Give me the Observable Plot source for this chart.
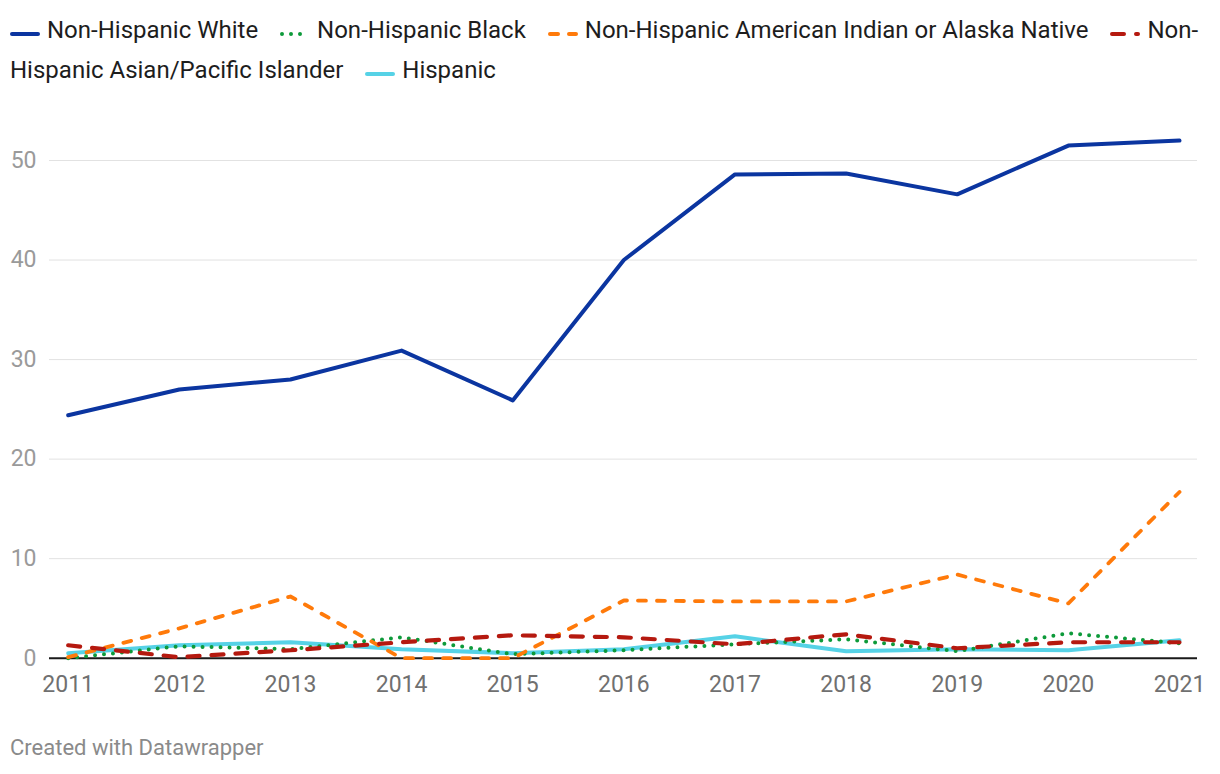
<!DOCTYPE html>
<html>
<head>
<meta charset="utf-8">
<script src="https://cdn.jsdelivr.net/npm/d3@7"></script>
<script src="https://cdn.jsdelivr.net/npm/@observablehq/plot@0.6"></script>
<style>
  html, body { margin: 0; padding: 0; background: #fff; }
  body { width: 1220px; height: 774px; overflow: hidden; position: relative; font-family: Roboto, "Noto Sans", sans-serif; }
  #legend { position: absolute; left: 10px; top: 10px; font-size: 24px; line-height: 40px; color: #1d1d1d; white-space: nowrap; }
  #legend .it { margin-right: 16px; }
  #legend svg { display: inline-block; vertical-align: -1px; margin-right: 7px; }
  #chart { position: absolute; left: 0; top: 90px; }
  #footer { position: absolute; left: 10px; top: 735px; font-size: 22px; color: #8a8a8a; }
</style>
</head>
<body>
<div id="legend"></div>
<div id="chart"></div>
<div id="footer">Created with Datawrapper</div>
<script>
// ---- data ----
const years = [2011, 2012, 2013, 2014, 2015, 2016, 2017, 2018, 2019, 2020, 2021];
const seriesNames = [
  "Non-Hispanic White",
  "Non-Hispanic Black",
  "Non-Hispanic American Indian or Alaska Native",
  "Non-Hispanic Asian/Pacific Islander",
  "Hispanic"
];
const white = [24.4, 27.0, 28.0, 30.9, 25.9, 40.0, 48.6, 48.7, 46.6, 51.5, 52.0];
const black = [0.0, 1.2, 0.9, 2.1, 0.4, 0.8, 1.4, 1.9, 0.7, 2.5, 1.5];
const aian = [0.1, 3.0, 6.2, 0.0, 0.0, 5.8, 5.7, 5.7, 8.4, 5.5, 16.7];
const asian = [1.3, 0.1, 0.8, 1.6, 2.3, 2.1, 1.4, 2.4, 1.0, 1.6, 1.6];
const hispanic = [0.5, 1.3, 1.6, 0.9, 0.5, 0.9, 2.2, 0.7, 0.9, 0.8, 1.8];
const yTicks = [0, 10, 20, 30, 40, 50];

// ---- styles (separate from data) ----
const styles = [
  {color: "#0b35a0", width: 4, dash: null},
  {color: "#0d9a3a", width: 4, dash: "0 9"},
  {color: "#ff7a0a", width: 3.8, dash: "8 11"},
  {color: "#b5190f", width: 4.2, dash: "12 12"},
  {color: "#56d2e6", width: 4, dash: null}
];
const valuesBySeries = [white, black, aian, asian, hispanic];
const drawOrder = [0, 4, 1, 2, 3];

// ---- legend ----
const legend = document.getElementById("legend");
function swatch(st) {
  const ns = "http://www.w3.org/2000/svg";
  const s = document.createElementNS(ns, "svg");
  s.setAttribute("width", 30); s.setAttribute("height", 10);
  const l = document.createElementNS(ns, "line");
  l.setAttribute("x1", 2); l.setAttribute("x2", 28);
  l.setAttribute("y1", 5); l.setAttribute("y2", 5);
  l.setAttribute("stroke", st.color);
  l.setAttribute("stroke-width", 4);
  l.setAttribute("stroke-linecap", "round");
  if (st.dash) l.setAttribute("stroke-dasharray", st.dash);
  s.appendChild(l);
  return s;
}
seriesNames.forEach((name, i) => {
  const span = document.createElement("span");
  span.className = "it";
  span.appendChild(swatch(styles[i]));
  if (name === "Non-Hispanic Asian/Pacific Islander") {
    span.appendChild(document.createTextNode("Non-"));
    span.appendChild(document.createElement("br"));
    span.appendChild(document.createTextNode("Hispanic Asian/Pacific Islander"));
  } else {
    span.appendChild(document.createTextNode(name));
  }
  legend.appendChild(span);
  legend.appendChild(document.createTextNode(" "));
});

// ---- chart ----
const lineMarks = drawOrder.map(i => {
  const st = styles[i];
  const data = years.map((y, k) => ({year: y, value: valuesBySeries[i][k]}));
  return Plot.line(data, {
    x: "year", y: "value",
    stroke: st.color, strokeWidth: st.width,
    strokeDasharray: st.dash || undefined,
    strokeLinecap: "round", strokeLinejoin: "round"
  });
});

const chart = Plot.plot({
  width: 1220,
  height: 618,
  marginLeft: 49,
  marginRight: 23,
  marginTop: 70,
  marginBottom: 50,
  style: {fontFamily: "Roboto, sans-serif", background: "transparent", overflow: "visible"},
  x: {domain: [2011, 2021], range: [67.7, 1179], label: null},
  y: {domain: [0, 50], range: [567.7, 70], label: null},
  marks: [
    Plot.ruleY(yTicks.filter(d => d > 0), {stroke: "#e2e2e2", strokeWidth: 1}),
    Plot.axisY({ticks: yTicks, tickSize: 0, tickPadding: 13, fontSize: 23, color: "#9a9a9a", label: null}),
    Plot.axisX({ticks: years, tickFormat: "d", tickSize: 0, tickPadding: 17, fontSize: 23, color: "#707070", label: null}),
    Plot.ruleY([0], {stroke: "#1a1a1a", strokeWidth: 2}),
    ...lineMarks
  ]
});
document.getElementById("chart").appendChild(chart);
</script>
</body>
</html>
